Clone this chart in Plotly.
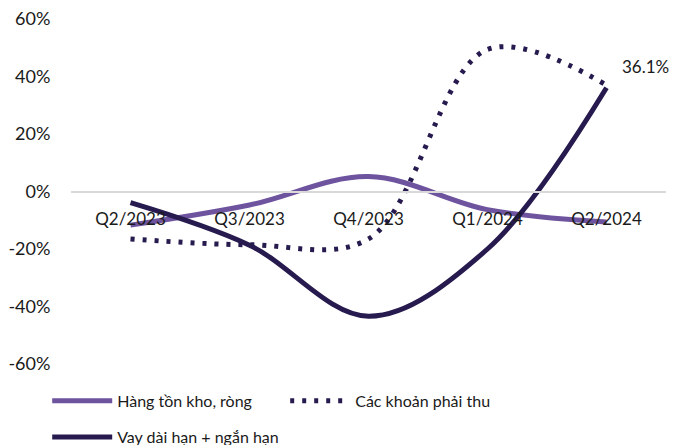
import plotly.graph_objects as go

categories = ["Q2/2023", "Q3/2023", "Q4/2023", "Q1/2024", "Q2/2024"]
hang_ton_kho = [-11.7, -4.7, 5.2, -6.3, -10.6]
phai_thu = [-16.5, -18.5, -16.5, 49.4, 37.0]
vay = [-3.9, -18.7, -43.4, -20.0, 36.1]

y_ticks = [-60, -40, -20, 0, 20, 40, 60]
y_tick_labels = ["-60%", "-40%", "-20%", "0%", "20%", "40%", "60%"]

PURPLE = "#6E539E"
DARK = "#261A4E"
FONT = "Lato"
TXT = "#1A1A1A"

fig = go.Figure()
fig.add_trace(go.Scatter(
    x=categories, y=hang_ton_kho, name="Hàng tồn kho, ròng", mode="lines",
    line=dict(color=PURPLE, width=5, shape="spline", smoothing=1),
    legend="legend"))
fig.add_trace(go.Scatter(
    x=categories, y=phai_thu, name="Các khoản phải thu", mode="lines",
    line=dict(color=DARK, width=5, shape="spline", smoothing=1, dash="4px,8px"),
    legend="legend"))
fig.add_trace(go.Scatter(
    x=categories, y=vay, name="Vay dài hạn + ngắn hạn", mode="lines",
    line=dict(color=DARK, width=5, shape="spline", smoothing=1),
    legend="legend2"))

fig.add_annotation(
    x=categories[-1], y=vay[-1], xref="x", yref="y",
    text=f"{vay[-1]:.1f}%", showarrow=False,
    xanchor="left", yanchor="middle", xshift=13, yshift=21,
    font=dict(family=FONT, size=17, color=TXT))

fig.update_layout(
    width=676, height=445,
    margin=dict(l=71, r=10, t=19, b=81, autoexpand=False),
    paper_bgcolor="white", plot_bgcolor="white",
    font=dict(family=FONT, size=16, color=TXT),
    xaxis=dict(
        type="category", range=[-0.5, 4.5],
        anchor="free", position=0.5, automargin=False,
        showline=True, linecolor="#D9D9D9", linewidth=2,
        showgrid=False, zeroline=False,
        ticks="outside", ticklen=12, tickcolor="rgba(0,0,0,0)",
        tickfont=dict(family=FONT, size=17, color=TXT)),
    yaxis=dict(
        range=[-60, 60], tickmode="array", tickvals=y_ticks, ticktext=y_tick_labels,
        showgrid=False, zeroline=False, showline=False, automargin=False,
        ticks="outside", ticklen=16, tickcolor="rgba(0,0,0,0)",
        tickfont=dict(family=FONT, size=18, color=TXT)),
    legend=dict(
        orientation="h", x=-0.04, xanchor="left", y=-0.107, yanchor="middle",
        itemwidth=60, entrywidth=163, font=dict(family=FONT, size=16, color=TXT),
        bgcolor="rgba(0,0,0,0)"),
    legend2=dict(
        orientation="h", x=-0.04, xanchor="left", y=-0.212, yanchor="middle",
        itemwidth=60, font=dict(family=FONT, size=16, color=TXT),
        bgcolor="rgba(0,0,0,0)"),
    showlegend=True,
)

fig.write_html(
    "out.html",
    config={"displayModeBar": False},
    post_script="document.body.style.margin='0px';document.body.style.overflow='hidden';",
)
